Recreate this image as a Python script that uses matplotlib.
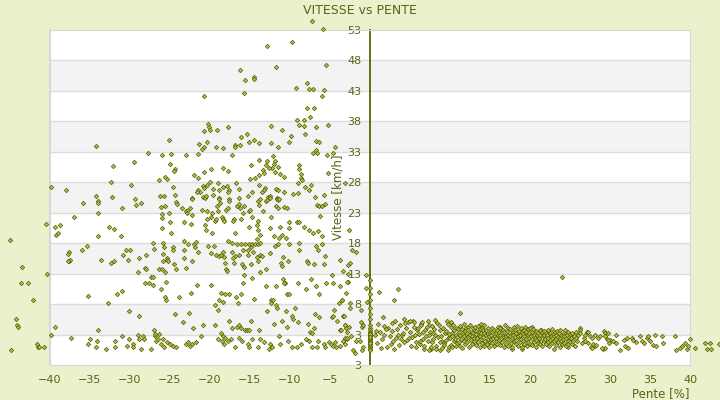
import numpy as np
import matplotlib
matplotlib.use("Agg")
import matplotlib.pyplot as plt

# (pente %, vitesse km/h)
descente = [
    (-7.25, 54.5), (-5.9, 53.2), (-12.9, 50.4), (-9.7, 51.0), (-11.7, 46.9), (-5.5, 47.2), (-16.2, 46.4),
    (-15.6, 44.8), (-14.5, 45.3), (-14.5, 45.0), (-15.7, 42.7), (-20.7, 42.2), (-9.2, 43.5), (-7.9, 44.3),
    (-7.6, 43.3), (-7.1, 43.3), (-5.7, 43.2), (-6.0, 42.2), (-7.9, 40.2), (-7.0, 40.2), (-7.5, 38.7),
    (-9.1, 38.2), (-8.2, 38.2), (-8.9, 37.4), (-8.2, 37.3), (-6.7, 37.1), (-5.2, 37.4), (-8.1, 35.9),
    (-12.4, 37.3), (-11.0, 36.6), (-9.9, 35.6), (-10.1, 34.6), (-6.7, 34.8), (-6.4, 34.6), (-4.4, 33.8),
    (-6.7, 33.3), (-7.1, 32.8), (-6.6, 32.8), (-4.6, 32.8), (-5.4, 32.5), (-5.2, 29.5), (-8.9, 30.8),
    (-8.9, 30.2), (-8.6, 29.4), (-8.6, 28.7), (-8.5, 28.4), (-9.0, 27.8), (-7.4, 27.6), (-7.6, 26.8),
    (-8.1, 27.3), (-9.6, 26.1), (-9.0, 26.3), (-6.9, 25.6), (-5.7, 25.9), (-12.4, 34.5), (-11.5, 33.8),
    (-12.1, 32.3), (-11.9, 31.5), (-12.9, 31.5), (-13.0, 30.8), (-12.0, 31.0), (-12.2, 30.4), (-12.6, 30.4),
    (-11.5, 30.5), (-11.9, 29.7), (-13.4, 30.0), (-13.2, 29.5), (-11.2, 29.4), (-10.7, 28.9), (-13.9, 31.7),
    (-14.9, 30.8), (-13.9, 29.2), (-14.4, 28.7), (-15.0, 28.6), (-15.4, 35.9), (-16.1, 35.5), (-15.1, 34.6),
    (-14.5, 35.0), (-13.9, 34.5), (-16.9, 34.1), (-16.9, 33.8), (-16.2, 34.1), (-17.7, 37.1), (-19.1, 36.6),
    (-18.4, 33.6), (-19.2, 33.8), (-17.2, 32.5), (-18.4, 30.4), (-17.7, 29.9), (-20.2, 37.6), (-20.1, 37.1),
    (-20.0, 36.6), (-20.7, 36.4), (-20.4, 34.6), (-21.4, 34.3), (-20.7, 33.8), (-21.0, 33.5), (-21.5, 32.7),
    (-23.0, 32.5), (-19.9, 30.2), (-20.7, 29.7), (-21.5, 28.7), (-22.0, 29.2), (-19.0, 27.9), (-20.0, 28.1),
    (-20.4, 27.6), (-20.9, 27.4), (-21.5, 26.8), (-21.2, 26.4), (-21.6, 26.4), (-20.7, 27.1), (-19.6, 26.9),
    (-18.9, 26.8), (-18.4, 27.3), (-17.9, 27.4), (-17.6, 26.8), (-17.7, 26.4), (-16.7, 27.9), (-16.4, 26.9),
    (-13.9, 27.6), (-14.7, 26.4), (-15.2, 25.8), (-13.1, 27.1), (-13.2, 26.8), (-13.5, 26.4), (-12.7, 25.6),
    (-11.7, 26.9), (-11.5, 26.8), (-10.7, 26.4), (-12.5, 25.8), (-11.6, 25.5), (-16.4, 25.5), (-17.6, 25.3),
    (-18.9, 25.5), (-19.6, 25.9), (-22.2, 25.5), (-24.4, 25.9), (-24.6, 27.3), (-24.4, 30.2), (-24.5, 29.9),
    (-25.0, 31.0), (-25.1, 35.0), (-24.9, 32.7), (-26.0, 32.5), (-26.4, 28.4), (-25.6, 28.9), (-25.4, 28.6),
    (-26.2, 25.8), (-25.7, 25.8), (-27.7, 32.8), (-29.5, 31.4), (-32.1, 30.7), (-34.2, 34.0), (-32.4, 28.1),
    (-29.9, 27.6), (-32.2, 25.6), (-34.2, 25.8), (-29.4, 25.3), (-38.0, 26.8), (-39.9, 27.3),
    (-24.25, 24.8), (-24.1, 24.5), (-23.5, 23.8), (-23.0, 23.3), (-22.75, 23.5), (-22.5, 23.7), (-22.9, 23.0),
    (-22.25, 25.3), (-22.25, 22.7), (-21.0, 23.5), (-20.9, 25.6), (-20.6, 25.5), (-20.5, 25.8), (-20.4, 23.3),
    (-19.75, 23.0), (-20.4, 22.0), (-19.9, 22.3), (-19.4, 21.7), (-19.25, 22.0), (-18.9, 25.3), (-18.75, 24.6),
    (-19.1, 24.1), (-19.0, 23.3), (-18.5, 22.3), (-18.4, 22.0), (-18.25, 21.7), (-18.0, 23.5), (-17.75, 23.7),
    (-17.6, 25.0), (-17.0, 22.0), (-17.1, 21.7), (-16.6, 24.1), (-16.4, 24.5), (-16.25, 23.8), (-16.1, 22.0),
    (-15.9, 23.0), (-15.75, 24.1), (-15.1, 23.3), (-15.0, 23.5), (-14.75, 22.3), (-14.0, 25.0), (-13.75, 25.3),
    (-13.9, 24.3), (-14.0, 21.7), (-13.4, 23.3), (-13.0, 25.0), (-12.9, 25.1), (-12.5, 25.5), (-12.4, 22.3),
    (-11.75, 24.1), (-11.6, 25.3), (-11.5, 25.1), (-11.4, 25.3), (-11.5, 23.7), (-10.75, 24.0), (-10.4, 23.7),
    (-10.1, 21.5), (-9.1, 21.4), (-8.9, 21.5), (-6.6, 24.3), (-6.4, 24.1), (-6.0, 24.1), (-5.6, 24.5),
    (-6.25, 22.5), (-8.25, 20.7), (-11.25, 20.7), (-12.5, 20.5), (-10.1, 20.5), (-15.1, 20.7), (-14.1, 21.0),
    (-20.6, 21.0), (-22.4, 21.2), (-23.25, 21.4),
    (-20.5, 20.2), (-19.75, 19.6), (-16.9, 19.6), (-14.0, 20.2), (-13.75, 19.4), (-12.0, 19.2), (-11.4, 18.9),
    (-11.0, 19.4), (-10.5, 18.9), (-7.6, 20.2), (-7.1, 19.6), (-6.5, 20.0), (-6.0, 19.2),
    (-23.25, 18.4), (-24.6, 17.4), (-24.6, 16.9), (-23.25, 16.9), (-22.75, 17.9), (-22.0, 17.8), (-21.75, 18.2),
    (-21.9, 17.4), (-21.5, 16.6), (-23.25, 15.5), (-22.25, 15.1), (-24.5, 14.6), (-23.0, 14.0), (-24.25, 13.7),
    (-20.25, 17.6), (-19.5, 17.6), (-19.9, 16.4), (-19.25, 16.1), (-18.9, 15.9), (-18.6, 16.1), (-18.4, 16.6),
    (-18.25, 15.8), (-18.1, 14.8), (-18.0, 13.8), (-17.9, 13.5), (-17.75, 18.4), (-17.25, 18.1), (-16.6, 17.9),
    (-16.1, 17.9), (-15.6, 17.8), (-15.1, 17.9), (-14.9, 17.4), (-14.75, 17.8), (-14.4, 17.9), (-14.0, 17.9),
    (-13.75, 18.1), (-14.1, 18.7), (-17.25, 16.6), (-16.9, 15.9), (-16.4, 16.1), (-17.1, 15.5), (-17.0, 14.8),
    (-15.9, 16.8), (-15.25, 16.9), (-15.25, 16.1), (-14.6, 16.6), (-14.1, 15.8), (-14.0, 15.0), (-13.75, 16.1),
    (-13.5, 15.9), (-16.0, 14.6), (-15.75, 14.1), (-14.9, 14.6), (-13.75, 13.2), (-13.0, 13.8), (-12.5, 16.4),
    (-11.9, 17.6), (-11.5, 17.8), (-10.9, 15.8), (-11.1, 14.8), (-11.0, 14.3), (-10.25, 15.0), (-10.1, 17.8),
    (-8.9, 18.1), (-8.9, 16.8), (-7.9, 15.1), (-7.75, 14.8), (-7.0, 14.6), (-6.75, 17.6), (-6.0, 17.8),
    (-5.75, 14.6), (-5.6, 15.9), (-6.5, 16.9), (-3.75, 15.3), (-2.75, 14.5), (-2.5, 14.8), (-4.75, 12.7),
    (-21.6, 11.2), (-19.9, 11.2), (-22.4, 9.9), (-23.9, 9.2), (-18.6, 9.9), (-18.1, 9.6), (-17.6, 9.6),
    (-18.9, 8.7), (-18.4, 8.4), (-16.75, 9.1), (-16.5, 8.1), (-16.1, 9.6), (-15.75, 12.7), (-15.9, 11.5),
    (-14.75, 12.3), (-14.5, 8.9), (-13.0, 11.0), (-11.75, 11.0), (-10.9, 12.2), (-10.6, 11.5), (-10.75, 11.4),
    (-10.4, 9.6), (-10.1, 9.6), (-12.4, 8.6), (-12.1, 8.7), (-9.0, 11.5), (-8.0, 10.4), (-7.4, 12.2),
    (-6.75, 11.0), (-6.4, 9.7), (-5.5, 11.4), (-4.6, 11.5), (-3.75, 11.0), (-3.5, 8.7), (-3.0, 9.9), (-2.75, 11.7),
    (-24.4, 6.4), (-23.4, 5.1), (-22.6, 6.6), (-22.1, 4.0), (-20.9, 4.6), (-19.4, 7.8), (-19.0, 7.1),
    (-19.4, 4.5), (-18.6, 3.2), (-18.4, 2.8), (-18.1, 2.5), (-17.6, 5.3), (-17.25, 4.1), (-16.6, 4.3),
    (-16.4, 4.6), (-16.1, 4.0), (-15.6, 3.8), (-15.4, 3.7), (-15.1, 3.7), (-14.9, 5.3), (-13.9, 3.8),
    (-12.9, 6.9), (-12.4, 8.2), (-11.75, 7.8), (-11.6, 7.3), (-12.0, 4.8), (-11.0, 5.3), (-10.4, 4.3),
    (-10.5, 6.8), (-9.75, 6.1), (-9.4, 7.4), (-9.0, 5.1), (-7.75, 4.8), (-7.5, 3.5), (-9.6, 5.5), (-6.9, 6.3),
    (-6.4, 5.8), (-4.75, 5.8), (-4.1, 5.3), (-3.4, 6.0), (-3.1, 4.5), (-3.0, 4.0), (-3.75, 3.7), (-4.5, 7.1),
    (-7.0, 4.1), (-7.25, 3.2), (-2.5, 7.4),
    (-24.6, 1.2), (-24.25, 0.9), (-25.0, 1.5), (-23.0, 1.4), (-22.75, 1.7), (-22.5, 1.2), (-22.25, 1.5),
    (-21.75, 1.7), (-21.1, 2.7), (-19.0, 2.3), (-18.5, 1.9), (-18.25, 1.4), (-17.75, 2.0), (-17.4, 2.3),
    (-16.9, 0.9), (-16.4, 2.5), (-16.0, 1.9), (-15.25, 1.5), (-15.1, 1.0), (-14.75, 2.2), (-14.0, 0.9),
    (-13.75, 2.3), (-13.25, 1.7), (-12.5, 1.4), (-12.6, 0.7), (-12.25, 1.0), (-11.4, 2.7), (-11.25, 1.5),
    (-10.25, 1.9), (-9.75, 0.9), (-9.1, 1.0), (-8.6, 1.4), (-8.0, 2.3), (-7.6, 1.9), (-7.25, 0.9), (-6.6, 0.9),
    (-6.5, 1.9), (-5.75, 1.4), (-5.6, 0.9), (-5.1, 1.7), (-4.9, 1.5), (-4.6, 1.2), (-4.25, 0.9), (-3.75, 1.2),
    (-3.4, 1.9), (-3.1, 1.5), (-2.9, 2.3),
    (-45.0, 18.6), (-40.5, 21.2), (-43.5, 14.1), (-43.6, 11.4), (-42.75, 11.5), (-42.1, 8.6), (-40.4, 13.0),
    (-44.25, 5.5), (-44.1, 4.5), (-44.0, 4.3), (-44.9, 0.5), (-41.6, 1.4), (-41.5, 1.0), (-41.4, 0.9),
    (-40.75, 0.9), (-39.9, 3.0), (-39.4, 4.3), (-39.4, 20.7), (-38.75, 21.0), (-39.25, 19.4), (-39.0, 19.6),
    (-37.0, 22.3), (-37.6, 16.6), (-37.75, 16.3), (-37.6, 15.1), (-37.5, 15.3), (-37.75, 15.0), (-36.0, 16.9),
    (-35.4, 17.6), (-34.0, 23.0), (-34.0, 19.2), (-35.9, 24.6), (-34.0, 25.0), (-34.0, 24.6), (-33.6, 15.3),
    (-35.25, 9.4), (-32.75, 8.2), (-37.4, 2.5), (-35.0, 2.2), (-35.25, 1.4), (-34.1, 2.0), (-34.25, 1.0),
    (-33.0, 0.7), (-31.9, 1.9), (-31.9, 0.9), (-34.0, 3.7), (-32.6, 20.7), (-32.0, 20.4), (-31.0, 23.8),
    (-31.1, 19.1), (-32.4, 14.8), (-32.0, 15.0), (-31.6, 9.7), (-31.0, 10.2), (-30.9, 16.1), (-30.5, 16.9),
    (-30.0, 16.8), (-30.25, 15.3), (-30.1, 6.9), (-28.9, 6.1), (-31.0, 2.7), (-30.1, 2.3), (-30.4, 1.2),
    (-29.6, 1.5), (-29.6, 0.9), (-29.0, 3.0), (-28.9, 2.2), (-28.4, 2.7), (-28.25, 2.3), (-28.6, 0.7),
    (-27.4, 0.7), (-26.9, 2.7), (-26.75, 1.9), (-26.4, 3.1), (-29.25, 24.3), (-28.6, 24.6), (-29.0, 13.3),
    (-28.9, 15.6), (-28.1, 14.0), (-28.0, 13.7), (-28.0, 16.0), (-27.1, 18.1), (-27.0, 17.1), (-27.4, 12.5),
    (-27.1, 12.5), (-28.1, 11.4), (-27.6, 11.5), (-27.1, 11.2), (-27.0, 3.8), (-26.9, 3.1), (-26.4, 13.7),
    (-26.0, 13.8), (-25.9, 18.1), (-25.75, 17.3), (-25.9, 16.3), (-26.1, 10.5), (-25.5, 11.7), (-25.9, 15.0),
    (-25.6, 13.3), (-26.0, 20.5), (-26.0, 22.8), (-26.0, 22.2), (-26.1, 24.0), (-25.6, 24.1), (-25.6, 9.1),
    (-25.5, 8.7), (-26.5, 2.2), (-25.9, 2.3), (-26.1, 1.4), (-25.75, 0.9), (-25.4, 1.7), (-25.4, 15.6),
    (-25.4, 15.3), (-25.25, 15.0), (-25.0, 21.4), (-24.9, 19.7), (-25.1, 23.0),
    (-4.6, 6.0), (-3.9, 8.2), (-3.1, 4.6), (-2.9, 3.5), (-2.6, 4.3), (-2.5, 8.1), (-1.1, 5.0), (-1.0, 4.3),
    (-0.9, 4.6), (-1.1, 7.1), (-3.25, 6.1), (-3.6, 3.7), (-3.1, 2.5), (-2.9, 2.5), (-2.4, 2.7), (-1.75, 1.9),
    (-1.25, 2.0), (-1.0, 0.5), (-0.9, 1.0), (-4.4, 1.7), (-2.1, 0.5), (-1.9, 0.0), (-0.5, 12.8), (-0.5, 10.7),
    (-0.4, 8.4), (-2.6, 20.2), (-2.25, 16.8), (-1.75, 16.6), (-3.4, 13.5), (-2.9, 11.7), (-2.75, 13.0),
    (-3.5, 8.7), (-3.1, 27.9),
]

montee = [
    (0.6, 2.9), (0.9, 1.6), (1.2, 3.4), (1.0, 4.8), (1.5, 2.2), (1.8, 3.0), (2.1, 1.0), (2.3, 4.1), (2.5, 2.7),
    (2.7, 3.6), (2.9, 1.9), (3.1, 5.2), (3.3, 2.4), (3.4, 3.9), (3.6, 1.3), (3.8, 4.5), (4.0, 2.9), (4.1, 3.3),
    (4.3, 1.7), (4.5, 4.0), (4.6, 2.1), (4.8, 5.0), (5.0, 3.5), (5.1, 1.1), (5.3, 2.6), (5.5, 4.3), (5.6, 3.0),
    (5.8, 1.8), (5.9, 3.8), (1.4, 0.8), (2.0, 3.9), (2.8, 4.9), (3.0, 0.6), (3.9, 2.2), (4.9, 2.4), (5.4, 5.3),
    (0.8, 3.6), (1.7, 4.4), (2.6, 1.5), (3.5, 3.0), (4.4, 4.9), (5.7, 0.9),
    (1.1, 10.05), (3.5, 10.5), (3.0, 8.6), (24.0, 12.5), (11.25, 6.6), (1.6, 5.8), (4.25, 5.6), (5.0, 5.3),
    (5.5, 5.1), (6.4, 4.8), (7.4, 4.6), (10.1, 5.1), (13.9, 4.8), (16.25, 4.3), (20.25, 4.3), (21.4, 3.8),
    (26.25, 4.15), (27.1, 3.5), (7.6, 0.7), (9.75, 0.5), (17.75, 0.7), (19.0, 0.7), (23.0, 0.7), (24.75, 0.9),
    (27.6, 1.0), (29.1, 0.65),
    (6.1, 3.1), (6.3, 1.4), (6.4, 4.6), (6.6, 2.3), (6.7, 0.6), (6.9, 3.8), (7.0, 2.7), (7.2, 5.2), (7.3, 1.9),
    (7.5, 3.4), (7.6, 0.9), (7.8, 4.4), (7.9, 2.2), (8.1, 3.0), (8.2, 1.2), (8.4, 4.9), (8.5, 2.6), (8.7, 3.7),
    (8.8, 0.4), (9.0, 2.0), (9.1, 4.1), (9.3, 1.6), (9.4, 3.3), (9.6, 5.3), (9.7, 2.4), (9.9, 1.0), (6.2, 2.0),
    (6.5, 5.0), (6.8, 1.1), (7.1, 4.2), (7.4, 2.9), (7.7, 1.8), (8.0, 3.9), (8.3, 0.7), (8.6, 4.5), (8.9, 2.8),
    (9.2, 1.3), (9.5, 3.6), (9.8, 4.7), (6.0, 4.0), (7.4, 0.5), (8.1, 5.4), (8.8, 1.7), (9.5, 2.1), (6.6, 3.5),
    (7.9, 3.2), (9.0, 0.8), (9.9, 3.1),
    (10.0, 2.5), (10.1, 4.2), (10.1, 1.3), (10.2, 3.3), (10.3, 0.9), (10.3, 2.8), (10.4, 4.6), (10.5, 1.9),
    (10.5, 3.7), (10.6, 2.2), (10.7, 1.1), (10.7, 4.0), (10.8, 3.0), (10.9, 1.6), (10.9, 2.6), (11.0, 3.9),
    (11.1, 1.8), (11.1, 3.5), (11.2, 2.9), (11.3, 4.4), (11.3, 1.2), (11.4, 2.3), (11.5, 3.9), (11.5, 0.8),
    (11.6, 3.1), (11.7, 2.0), (11.7, 4.7), (11.8, 2.7), (11.9, 1.5), (11.9, 3.6), (12.0, 2.4), (12.0, 4.1),
    (12.1, 3.2), (12.1, 1.7), (12.2, 4.3), (12.3, 2.6), (12.3, 3.8), (12.4, 1.0), (12.5, 3.0), (12.5, 4.5),
    (12.6, 2.1), (12.7, 3.5), (12.7, 1.4), (12.8, 2.8), (12.9, 4.0), (12.9, 3.3), (13.0, 1.9), (13.0, 2.5),
    (13.1, 4.2), (13.1, 2.9), (13.2, 3.6), (13.3, 1.3), (13.3, 3.1), (13.4, 2.4), (13.5, 4.4), (13.5, 1.8),
    (13.6, 3.4), (13.7, 2.7), (13.7, 0.9), (13.8, 3.9), (13.9, 2.2), (13.9, 3.2), (14.0, 1.6), (14.0, 4.0),
    (14.1, 2.6), (14.1, 3.7), (14.2, 1.2), (14.3, 3.3), (14.3, 4.6), (14.4, 2.0), (14.5, 2.9), (14.5, 3.8),
    (14.6, 1.5), (14.7, 3.1), (14.7, 2.3), (14.8, 4.1), (14.9, 1.0), (14.9, 2.7), (15.0, 3.5), (15.0, 1.8),
    (15.1, 3.0), (15.1, 2.2), (15.2, 4.0), (15.3, 1.6), (15.3, 3.4), (15.4, 2.5), (15.5, 3.8), (15.5, 1.1),
    (15.6, 2.8), (15.7, 3.3), (15.7, 1.9), (15.8, 2.4), (15.9, 3.7), (15.9, 1.4), (16.0, 3.0), (16.0, 4.3),
    (16.1, 2.1), (16.1, 3.5), (16.2, 1.3), (16.3, 2.9), (16.3, 4.1), (16.4, 2.4), (16.5, 3.2), (16.5, 1.7),
    (16.6, 3.8), (16.7, 2.6), (16.7, 1.0), (16.8, 3.4), (16.9, 2.2), (16.9, 4.5), (17.0, 2.8), (17.0, 1.5),
    (17.1, 3.6), (17.1, 2.3), (17.2, 1.2), (17.3, 3.0), (17.3, 4.0), (17.4, 2.0), (17.5, 2.7), (17.5, 3.9),
    (17.6, 1.6), (17.7, 3.3), (17.7, 2.5), (17.8, 1.0), (17.9, 3.5), (17.9, 2.9), (18.0, 4.3), (18.0, 1.9),
    (18.1, 2.6), (18.1, 3.8), (18.2, 1.5), (18.3, 3.2), (18.3, 2.1), (18.4, 4.4), (18.5, 2.8), (18.5, 1.2),
    (18.6, 3.6), (18.7, 2.4), (18.7, 3.0), (18.8, 1.7), (18.9, 4.0), (18.9, 2.2), (19.0, 3.4), (19.0, 1.0),
    (19.1, 3.1), (19.1, 2.0), (19.2, 3.7), (19.3, 1.4), (19.3, 2.7), (19.4, 4.2), (19.5, 2.3), (19.5, 3.4),
    (19.6, 1.1), (19.7, 2.9), (19.7, 3.9), (19.8, 1.8), (19.9, 2.5), (19.9, 3.3), (20.0, 1.5), (20.0, 4.0),
    (20.1, 2.7), (20.2, 3.5), (20.2, 1.3), (20.3, 2.2), (20.4, 3.9), (20.5, 1.8), (20.5, 3.0), (20.6, 2.5),
    (20.7, 1.0), (20.8, 3.6), (20.8, 2.1), (20.9, 2.9), (21.0, 1.6), (21.0, 3.3),
    (21.1, 2.4), (21.2, 3.8), (21.2, 1.5), (21.3, 3.0), (21.4, 2.0), (21.5, 3.4), (21.5, 1.1), (21.6, 2.7),
    (21.7, 3.6), (21.8, 1.9), (21.8, 2.9), (21.9, 2.3), (22.0, 3.2), (22.0, 1.4),
    (22.1, 3.0), (22.2, 1.7), (22.2, 3.7), (22.3, 2.5), (22.4, 1.2), (22.5, 3.3), (22.5, 2.1), (22.6, 2.8),
    (22.7, 1.6), (22.8, 3.9), (22.8, 2.4), (22.9, 3.1), (23.0, 1.9), (23.0, 2.7),
    (23.1, 3.4), (23.2, 2.2), (23.2, 1.3), (23.3, 2.9), (23.4, 3.6), (23.5, 1.8), (23.5, 2.6), (23.6, 3.2),
    (23.7, 1.0), (23.8, 2.4), (23.8, 3.8), (23.9, 2.0), (24.0, 2.8), (24.0, 1.5),
    (24.1, 2.3), (24.2, 3.3), (24.2, 1.6), (24.3, 2.8), (24.4, 3.7), (24.5, 1.2), (24.5, 2.5), (24.6, 3.0),
    (24.7, 2.0), (24.8, 1.4), (24.8, 3.5), (24.9, 2.6), (25.0, 1.8), (25.0, 3.1),
    (25.1, 2.4), (25.2, 1.5), (25.3, 3.2), (25.4, 2.0), (25.5, 2.8), (25.6, 1.1), (25.7, 2.5), (25.8, 3.5),
    (25.9, 1.9), (26.0, 2.9),
    (26.25, 3.8), (26.25, 3.3), (26.7, 2.45), (26.9, 3.0), (27.2, 3.4), (27.5, 2.7), (27.7, 2.45), (27.9, 1.45),
    (28.1, 1.1), (28.3, 1.36), (28.5, 2.45), (28.75, 2.7), (28.1, 3.0), (29.2, 3.55), (29.4, 3.27), (29.6, 2.35),
    (30.0, 2.18), (29.4, 0.82), (29.0, 0.82), (27.8, 0.82), (27.3, 1.64), (26.5, 1.64), (26.9, 2.0),
    (29.8, 3.27), (29.4, 2.73), (29.7, 2.18), (29.9, 1.64), (30.4, 1.91), (30.8, 3.0), (30.7, 1.64),
    (31.25, 0.43), (31.7, 2.18), (32.1, 2.45), (31.9, 1.1), (32.3, 0.82), (32.7, 2.45), (32.9, 2.18),
    (33.3, 1.8), (33.75, 2.73), (34.0, 1.91), (34.2, 1.64), (34.6, 2.45), (34.8, 2.73), (35.0, 1.91),
    (35.4, 1.36), (35.6, 3.0), (35.8, 1.1), (36.5, 2.73), (36.6, 1.64), (38.1, 2.84), (38.3, 0.54),
    (38.75, 0.82), (38.96, 1.1), (39.4, 1.64), (39.6, 0.65), (39.8, 1.1), (40.0, 2.29), (40.6, 0.82),
    (41.9, 1.64), (42.1, 0.65), (42.5, 1.64), (42.6, 0.65), (43.6, 1.45),
]

# points sitting on the 0 % line
plat_vitesse = [11.9, 10.7, 9.6, 8.7, 7.4, 6.3, 5.5, 4.6, 4.1, 3.8, 3.5, 3.3, 3.0, 2.8, 2.5, 2.3,
                2.2, 2.0, 1.9, 1.7, 1.5, 1.4, 1.2, 1.0, 0.9, 0.7, 0.5, 3.1, 2.6, 1.6]

x_ticks = list(range(-40, 41, 5))
y_grid = [-2, 3, 8, 13, 18, 23, 28, 33, 38, 43, 48, 53]
y_labels = ['3', '3', '8', '13', '18', '23', '28', '33', '38', '43', '48', '53']

fond = '#ebf0cd'
texte = '#5c6216'
olive = '#5a6400'

desc = np.array(descente)
mont = np.array(montee)

fig = plt.figure(figsize=(7.2, 4), dpi=100, facecolor=fond)
ax = fig.add_axes([50 / 720, 35 / 400, 640 / 720, 335 / 400])
ax.set_facecolor('white')
ax.set_xlim(-40, 40)
ax.set_ylim(-2, 53)

# alternating bands + grid
for i in range(len(y_grid) - 1):
    if i % 2 == 1:
        ax.axhspan(y_grid[i], y_grid[i + 1], color='#f3f3f3', lw=0, zorder=0)
for v in y_grid[1:-1]:
    ax.axhline(v, color='#dcdcdc', lw=1, zorder=1)

for s in ['top', 'right', 'bottom']:
    ax.spines[s].set_color('#d8d8d8')
ax.spines['left'].set_position(('data', 0))
ax.spines['left'].set_color(olive)
ax.spines['left'].set_linewidth(1.3)
ax.axvline(-40, color='#d8d8d8', lw=1.5, clip_on=False, zorder=1)

ax.set_xticks(x_ticks)
ax.set_yticks(y_grid)
ax.set_yticklabels(y_labels)
ax.tick_params(axis='both', length=0, colors=texte, labelsize=8)
ax.tick_params(axis='x', pad=7)
ax.tick_params(axis='y', pad=6)

kw = dict(marker='D', s=5, facecolor='#b4be55', edgecolor='#5b6600', linewidths=0.55, clip_on=False, zorder=3)
ax.scatter(desc[:, 0], desc[:, 1], **kw)
ax.scatter(mont[:, 0], mont[:, 1], **kw)
ax.scatter(np.zeros(len(plat_vitesse)), plat_vitesse, **kw)

ax.set_ylabel('Vitesse [km/h]', color=texte, fontsize=8.5, labelpad=2)
ax.set_xlabel('Pente [%]', loc='right', color=texte, fontsize=8.5, labelpad=2)
fig.text(0.5, 1 - 10 / 400, 'VITESSE vs PENTE', ha='center', va='center', color=texte, fontsize=9)

fig.savefig('out.png', dpi=100, facecolor=fond)
